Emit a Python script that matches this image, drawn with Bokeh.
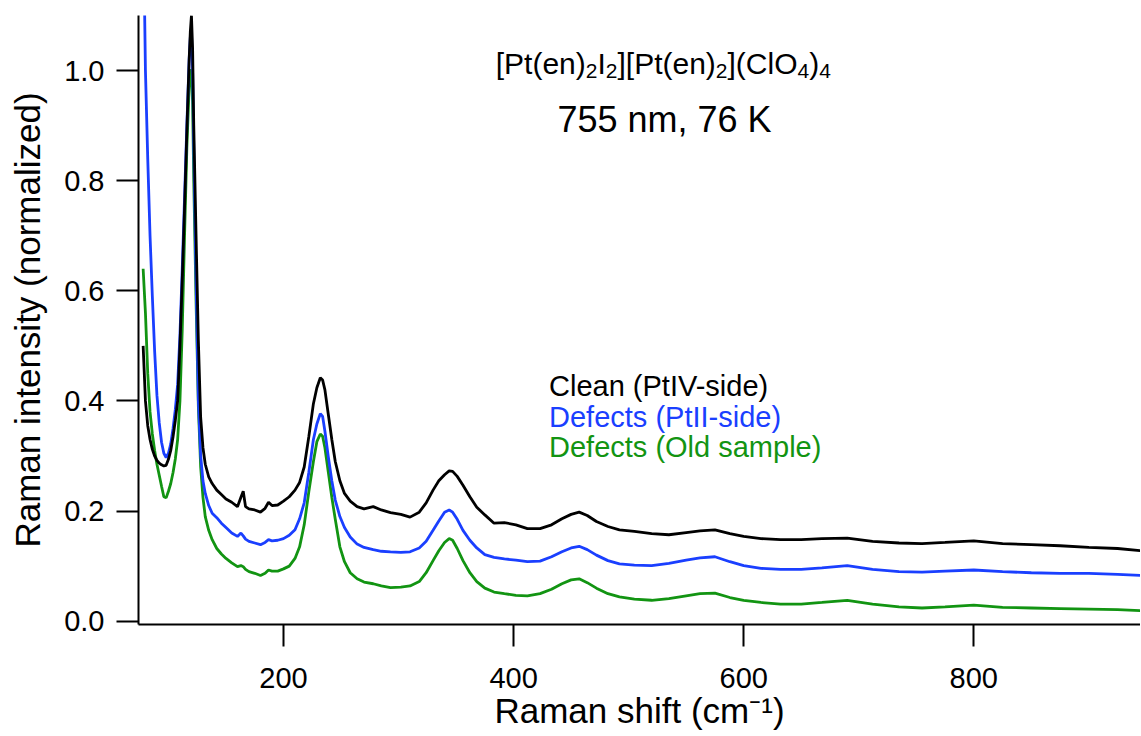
from bokeh.plotting import figure
from bokeh.models import Label, FixedTicker, PrintfTickFormatter, Range1d
from bokeh.embed import file_html
from bokeh.resources import INLINE

# ---------------- data ----------------
shift = [78, 80, 82, 84, 86, 88, 90, 92, 94, 96, 98, 100, 102, 104, 106, 108, 110, 112, 114, 116,
         118, 119, 120, 121, 122, 124, 126, 128, 130, 132, 135, 138, 142, 146, 150, 155, 160, 163,
         165, 167, 170, 175, 180, 184, 187, 190, 195, 200, 205, 210, 214, 218, 222, 226, 229, 232,
         234, 236, 239, 242, 245, 249, 253, 258, 264, 270, 278, 285, 293, 302, 310, 318, 324, 330,
         335, 340, 344, 347, 351, 356, 362, 368, 375, 383, 392, 402, 412, 423, 433, 442, 450, 457,
         464, 472, 482, 492, 505, 520, 535, 550, 562, 575, 588, 600, 615, 632, 650, 668, 690, 712,
         735, 755, 775, 800, 825, 850, 875, 900, 925, 946]

clean_ptiv = [0.50, 0.40, 0.355, 0.33, 0.312, 0.300, 0.292, 0.287, 0.284, 0.282, 0.283, 0.294, 0.310,
              0.335, 0.365, 0.40, 0.50, 0.62, 0.75, 0.89, 1.02, 1.07, 1.10, 1.04, 0.90, 0.70, 0.51,
              0.37, 0.315, 0.285, 0.262, 0.25, 0.238, 0.230, 0.222, 0.216, 0.208, 0.225, 0.236,
              0.208, 0.204, 0.202, 0.198, 0.205, 0.216, 0.210, 0.211, 0.218, 0.226, 0.238, 0.252,
              0.28, 0.335, 0.395, 0.424, 0.442, 0.438, 0.42, 0.375, 0.33, 0.29, 0.255, 0.232, 0.218,
              0.208, 0.204, 0.208, 0.202, 0.197, 0.194, 0.189, 0.198, 0.215, 0.238, 0.255, 0.266,
              0.273, 0.272, 0.263, 0.247, 0.226, 0.207, 0.193, 0.178, 0.179, 0.175, 0.168, 0.168,
              0.175, 0.186, 0.194, 0.198, 0.192, 0.181, 0.172, 0.166, 0.163, 0.159, 0.157, 0.161,
              0.164, 0.166, 0.159, 0.154, 0.150, 0.148, 0.148, 0.150, 0.151, 0.145, 0.142, 0.141,
              0.143, 0.146, 0.141, 0.139, 0.137, 0.134, 0.132, 0.128]

defects_ptii = [1.30, 1.00, 0.84, 0.70, 0.59, 0.49, 0.41, 0.36, 0.325, 0.305, 0.297, 0.305, 0.322,
                0.350, 0.385, 0.43, 0.52, 0.64, 0.77, 0.90, 1.02, 1.06, 1.07, 1.0, 0.86, 0.62, 0.40,
                0.30, 0.255, 0.232, 0.210, 0.196, 0.188, 0.178, 0.170, 0.160, 0.154, 0.160, 0.155,
                0.149, 0.145, 0.142, 0.139, 0.143, 0.148, 0.146, 0.147, 0.150, 0.156, 0.166, 0.186,
                0.215, 0.27, 0.33, 0.358, 0.377, 0.372, 0.345, 0.298, 0.255, 0.22, 0.19, 0.170,
                0.153, 0.140, 0.134, 0.130, 0.127, 0.126, 0.125, 0.126, 0.133, 0.145, 0.165, 0.182,
                0.198, 0.202, 0.198, 0.185, 0.165, 0.147, 0.133, 0.121, 0.116, 0.113, 0.111, 0.108,
                0.109, 0.117, 0.126, 0.133, 0.136, 0.130, 0.120, 0.110, 0.104, 0.102, 0.101, 0.105,
                0.111, 0.115, 0.117, 0.108, 0.101, 0.096, 0.094, 0.094, 0.097, 0.101, 0.094, 0.090,
                0.089, 0.091, 0.093, 0.090, 0.088, 0.087, 0.087, 0.085, 0.083]

defects_old = [0.64, 0.56, 0.45, 0.38, 0.34, 0.31, 0.285, 0.265, 0.245, 0.226, 0.224, 0.236, 0.250,
               0.270, 0.295, 0.33, 0.40, 0.53, 0.70, 0.86, 0.97, 1.0, 1.0, 0.94, 0.80, 0.58, 0.39,
               0.28, 0.225, 0.19, 0.165, 0.148, 0.132, 0.122, 0.114, 0.106, 0.099, 0.101, 0.099,
               0.094, 0.090, 0.087, 0.083, 0.087, 0.093, 0.091, 0.091, 0.095, 0.100, 0.114, 0.135,
               0.175, 0.235, 0.29, 0.326, 0.340, 0.336, 0.315, 0.27, 0.225, 0.185, 0.135, 0.108,
               0.088, 0.077, 0.071, 0.068, 0.064, 0.061, 0.062, 0.064, 0.072, 0.088, 0.110, 0.128,
               0.143, 0.150, 0.147, 0.132, 0.110, 0.088, 0.072, 0.060, 0.053, 0.050, 0.047, 0.046,
               0.050, 0.058, 0.068, 0.075, 0.077, 0.070, 0.060, 0.050, 0.044, 0.040, 0.038, 0.041,
               0.046, 0.050, 0.051, 0.043, 0.038, 0.034, 0.031, 0.031, 0.034, 0.038, 0.031, 0.026,
               0.024, 0.026, 0.029, 0.025, 0.024, 0.023, 0.022, 0.021, 0.019]

series_names = ["Clean (PtIV-side)", "Defects (PtII-side)", "Defects (Old sample)"]
x_ticks = [200, 400, 600, 800]
y_ticks = [0.0, 0.2, 0.4, 0.6, 0.8, 1.0]

# ---------------- styling ----------------
FONT = "Liberation Sans"
BLACK = "#000000"
BLUE = "#1a3fff"
GREEN = "#129412"

X0, X1 = 73.97, 944.9
Y0, Y1 = -0.006, 1.0999
PX_PER_Y = 550.7      # screen px per unit intensity (for baseline shifts)

p = figure(width=1140, height=735, output_backend="svg", toolbar_location=None,
           x_range=Range1d(X0, X1), y_range=Range1d(Y0, Y1),
           min_border_left=138, min_border_right=0, min_border_top=15, min_border_bottom=111)
p.grid.visible = False
p.outline_line_color = None
p.background_fill_color = "white"
p.border_fill_color = "white"

p.line(shift, defects_old, line_color=GREEN, line_width=2.8)
p.line(shift, defects_ptii, line_color=BLUE, line_width=2.8)
p.line(shift, clean_ptiv, line_color=BLACK, line_width=2.8)

for ax in (p.xaxis[0], p.yaxis[0]):
    ax.axis_line_width = 2
    ax.axis_line_color = "black"
    ax.major_tick_line_width = 2
    ax.major_tick_line_color = "black"
    ax.major_tick_out = 22
    ax.major_tick_in = 0
    ax.minor_tick_out = 0
    ax.minor_tick_in = 0
    ax.major_label_text_font = FONT
    ax.major_label_text_font_size = "29px"
    ax.major_label_text_color = "black"
    ax.axis_label_text_font = FONT
    ax.axis_label_text_font_size = "35px"
    ax.axis_label_text_font_style = "normal"
    ax.axis_label_text_color = "black"

p.xaxis.ticker = FixedTicker(ticks=x_ticks)
p.yaxis.ticker = FixedTicker(ticks=y_ticks)
p.yaxis.formatter = PrintfTickFormatter(format="%.1f")
p.xaxis.major_label_standoff = 21
p.yaxis.major_label_standoff = 12

p.yaxis.axis_label = "Raman intensity (normalized)"
p.yaxis.axis_label_standoff = 14
p.xaxis.axis_label = "Raman shift (cm\u207b\u00b9)"
p.xaxis.axis_label_standoff = 0

# Arial / Liberation Sans advance widths (per 1000 em)
ADV = {'[': 278, ']': 278, 'P': 667, 't': 278, '(': 333, ')': 333, 'e': 556, 'n': 556, 'I': 278,
       'C': 722, 'l': 222, 'O': 778, '2': 556, '4': 556}


def text_width(s, size):
    return sum(ADV.get(ch, 556) for ch in s) * size / 1000.0


def rich_text(pieces, x, y, color="black"):
    """pieces: list of (text, font size px, baseline shift px (positive = down))"""
    off = 0.0
    for txt, size, dy in pieces:
        p.add_layout(Label(x=x, y=y - dy / PX_PER_Y, x_offset=off, text=txt,
                           text_font=FONT, text_font_size=f"{size}px", text_color=color,
                           text_align="left", text_baseline="alphabetic"))
        off += text_width(txt, size)


# chemical formula with subscripts
F, f, SUB = 30, 21, 8
rich_text([("[Pt(en)", F, 0), ("2", f, SUB), ("I", F, 0), ("2", f, SUB), ("][Pt(en)", F, 0),
           ("2", f, SUB), ("](ClO", F, 0), ("4", f, SUB), (")", F, 0), ("4", f, SUB)],
          384.5, 1.0132)

p.add_layout(Label(x=531.2, y=0.9110, text="755 nm, 76 K", text_font=FONT, text_font_size="36px",
                   text_color="black", text_align="center", text_baseline="alphabetic"))

# legend as coloured text
for name, color, yb in zip(series_names, [BLACK, BLUE, GREEN], [0.4271, 0.3717, 0.3167]):
    p.add_layout(Label(x=430.8, y=yb, text=name, text_font=FONT, text_font_size="29px",
                       text_color=color, text_align="left", text_baseline="alphabetic"))

open("out.html", "w").write(file_html(p, INLINE))
